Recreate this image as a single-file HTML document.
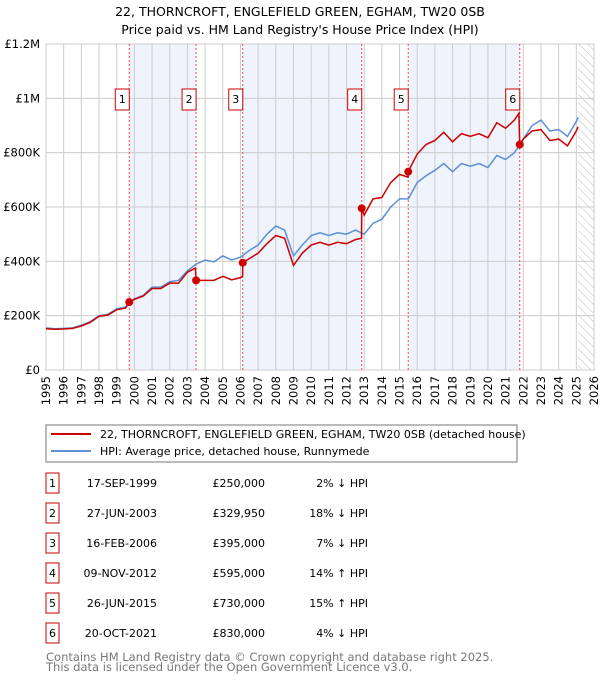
<!DOCTYPE html>
<html><head><meta charset="utf-8"><style>
body{margin:0;background:#fff;font-family:"Liberation Sans","DejaVu Sans",sans-serif;}
svg text{font-family:"DejaVu Sans","Liberation Sans",sans-serif;}
</style></head><body>
<svg id="c" width="600" height="680" xmlns="http://www.w3.org/2000/svg">
<defs><pattern id="hatch" width="6" height="6" patternUnits="userSpaceOnUse" patternTransform="rotate(-45)"><line x1="0" y1="0" x2="0" y2="6" stroke="#bbb" stroke-width="1"/></pattern></defs>
<text x="300" y="16" text-anchor="middle" font-size="12.5" fill="#000">22, THORNCROFT, ENGLEFIELD GREEN, EGHAM, TW20 0SB</text>
<text x="300" y="34" text-anchor="middle" font-size="12.5" fill="#000">Price paid vs. HM Land Registry's House Price Index (HPI)</text>
<g id="plot"></g>
<rect x="46" y="425" width="471" height="37" fill="#fff" stroke="#777"/>
<line x1="51" y1="434" x2="91" y2="434" stroke="#cc0000" stroke-width="2"/>
<text x="100" y="438" font-size="11">22, THORNCROFT, ENGLEFIELD GREEN, EGHAM, TW20 0SB (detached house)</text>
<line x1="51" y1="451" x2="91" y2="451" stroke="#5b8fd6" stroke-width="2"/>
<text x="100" y="455" font-size="11">HPI: Average price, detached house, Runnymede</text>
<g id="table"></g>
<text x="46" y="661" font-size="11.5" fill="#777">Contains HM Land Registry data © Crown copyright and database right 2025.</text>
<text x="46" y="671" font-size="11.5" fill="#777">This data is licensed under the Open Government Licence v3.0.</text>
</svg>
<script>
const hpiDates=[1995,1995.5,1996,1996.5,1997,1997.5,1998,1998.5,1999,1999.5,2000,2000.5,2001,2001.5,2002,2002.5,2003,2003.5,2004,2004.5,2005,2005.5,2006,2006.5,2007,2007.5,2008,2008.5,2009,2009.5,2010,2010.5,2011,2011.5,2012,2012.5,2013,2013.5,2014,2014.5,2015,2015.5,2016,2016.5,2017,2017.5,2018,2018.5,2019,2019.5,2020,2020.5,2021,2021.5,2022,2022.5,2023,2023.5,2024,2024.5,2025,2025.1];
const hpiValues=[155,152,153,155,165,178,200,205,225,232,262,275,305,305,325,330,365,390,405,398,420,405,415,440,460,500,530,515,420,460,495,505,495,505,500,515,500,540,555,600,630,630,690,715,735,760,730,760,750,760,745,790,775,800,850,900,920,880,885,860,915,930];
const redDates=[1995,1995.5,1996,1996.5,1997,1997.5,1998,1998.5,1999,1999.5,1999.71,2000,2000.5,2001,2001.5,2002,2002.5,2003,2003.45,2003.49,2004,2004.5,2005,2005.5,2006.0,2006.12,2006.13,2006.5,2007,2007.5,2008,2008.5,2009,2009.5,2010,2010.5,2011,2011.5,2012,2012.5,2012.85,2012.86,2013,2013.5,2014,2014.5,2015,2015.48,2015.49,2016,2016.5,2017,2017.5,2018,2018.5,2019,2019.5,2020,2020.5,2021,2021.5,2021.75,2021.8,2022,2022.5,2023,2023.5,2024,2024.5,2025,2025.1];
const redValues=[152,150,151,153,162,175,198,202,222,228,250,260,272,300,300,320,320,360,375,330,330,330,345,332,340,345,395,410,430,465,495,485,385,430,460,470,460,470,465,480,485,595,570,630,635,690,720,710,730,795,830,845,875,840,870,860,870,855,910,890,920,945,830,850,880,885,845,850,825,880,895];
const saleLabels=["1","2","3","4","5","6"];
const saleDates=[1999.71,2003.49,2006.13,2012.86,2015.49,2021.8];
const saleText=["17-SEP-1999","27-JUN-2003","16-FEB-2006","09-NOV-2012","26-JUN-2015","20-OCT-2021"];
const salePrices=[250,329.95,395,595,730,830];
const salePriceText=["£250,000","£329,950","£395,000","£595,000","£730,000","£830,000"];
const saleDiff=["2% ↓ HPI","18% ↓ HPI","7% ↓ HPI","14% ↑ HPI","15% ↑ HPI","4% ↓ HPI"];
const yTicks=[0,200,400,600,800,1000,1200];
const yTickLabels=["£0","£200K","£400K","£600K","£800K","£1M","£1.2M"];
const NS="http://www.w3.org/2000/svg";
const X0=46,X1=594,Y0=370,Y1=44;
const xs=y=>X0+(y-1995)/(2026-1995)*(X1-X0);
const ys=v=>Y0-v/1200*(Y0-Y1);
const g=document.getElementById('plot');
function mk(t,a,p){const e=document.createElementNS(NS,t);for(const k in a)e.setAttribute(k,a[k]);(p||g).appendChild(e);return e;}
for(let i=0;i<saleDates.length;i+=2){
 const e=mk('rect',{x:xs(saleDates[i]),y:Y1,width:xs(saleDates[i+1])-xs(saleDates[i]),height:Y0-Y1,fill:'#eef3fc'});
 
 
}
const h=mk('rect',{x:xs(2025.1),y:Y1,width:X1-xs(2025.1),height:Y0-Y1,fill:'url(#hatch)'});


for(let yr=1995;yr<=2026;yr++){
 const x=xs(yr);
 const l=mk('line',{x1:x,y1:Y1,x2:x,y2:Y0,stroke:'#ccc','stroke-width':1});
 
 
 const t=mk('text',{x:0,y:0,'font-size':11.5,'text-anchor':'end',transform:`translate(${x+4},${Y0+6}) rotate(-90)`});
 t.textContent=yr;
 
 
}
yTicks.forEach((v,i)=>{
 const y=ys(v);
 const l=mk('line',{x1:X0,y1:y,x2:X1,y2:y,stroke:'#ccc','stroke-width':1});
 
 
 const t=mk('text',{x:X0-6,y:y+4,'font-size':11.5,'text-anchor':'end'});
 t.textContent=yTickLabels[i];
 
 
});
mk('rect',{x:X0,y:Y1,width:X1-X0,height:Y0-Y1,fill:'none',stroke:'#ccc'});
saleDates.forEach((d,i)=>{
 const l=mk('line',{x1:xs(d),y1:Y1,x2:xs(d),y2:Y0,stroke:'#e05050','stroke-width':1,'stroke-dasharray':'2,2'});
 
 
});
const hp=mk('polyline',{points:hpiDates.map((d,i)=>xs(d)+','+ys(hpiValues[i])).join(' '),fill:'none',stroke:'#5b8fd6','stroke-width':1.5});


const rp=mk('polyline',{points:redDates.map((d,i)=>xs(d)+','+ys(redValues[i])).join(' '),fill:'none',stroke:'#cc0000','stroke-width':1.5});


saleDates.forEach((d,i)=>{
 const c=mk('circle',{cx:xs(d),cy:ys(salePrices[i]),r:4,fill:'#cc0000'});
 
 
 const b=mk('rect',{x:xs(d)-14,y:89,width:14,height:21,fill:'#fff',stroke:'#cc0000'});
 
 
 const t=mk('text',{x:xs(d)-7,y:103,'font-size':11,'text-anchor':'middle'});
 t.textContent=saleLabels[i];
 
 
});
const tb=document.getElementById('table');
saleLabels.forEach((s,i)=>{
 const y=483+i*30;
 const b=mk('rect',{x:46,y:y-10,width:13,height:20,fill:'#fff',stroke:'#cc0000'},tb);
 
 
 const cells=[[52.5,s,'middle'],[157,saleText[i],'end'],[265,salePriceText[i],'end'],[368,saleDiff[i],'end']];
 const names=['table-row-number','table-row-date','table-row-price','table-row-hpi-diff'];
 cells.forEach((c,j)=>{
  const t=mk('text',{x:c[0],y:y+4,'font-size':11,'text-anchor':c[2]},tb);
  t.textContent=c[1];
  
  
 });
});
</script>
</body></html>
